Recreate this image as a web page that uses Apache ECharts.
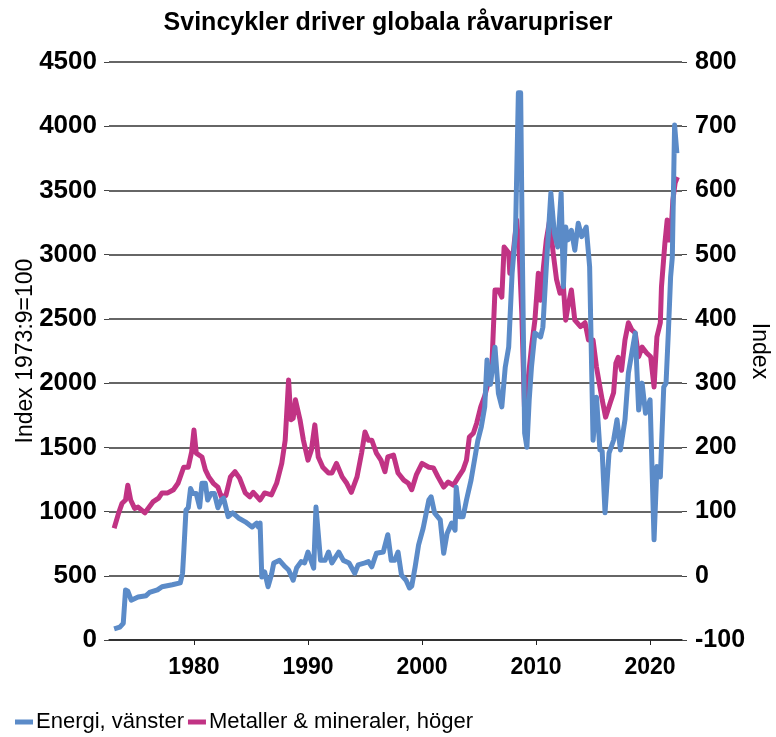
<!DOCTYPE html>
<html>
<head>
<meta charset="utf-8">
<script src="https://cdn.jsdelivr.net/npm/echarts@6/dist/echarts.min.js"></script>
<style>
    html, body { margin: 0; padding: 0; background: #fff; }
    #main { width: 776px; height: 737px; }
</style>
</head>
<body>
<div id="main"></div>
<script>
// Energi (vänster axel)
const energyYears = [1973.0, 1973.5, 1973.8, 1974.0, 1974.2, 1974.5, 1975.1, 1975.8, 1976.1, 1976.8, 1977.2, 1978.1, 1978.8, 1979.0, 1979.1, 1979.3, 1979.5, 1979.7, 1979.9, 1980.2, 1980.5, 1980.7, 1981.0, 1981.2, 1981.5, 1981.8, 1982.1, 1982.4, 1982.6, 1983.0, 1983.4, 1983.9, 1984.5, 1985.1, 1985.5, 1985.65, 1985.8, 1985.95, 1986.2, 1986.5, 1986.8, 1987.0, 1987.5, 1988.0, 1988.3, 1988.7, 1989.0, 1989.4, 1989.7, 1990.0, 1990.5, 1990.7, 1990.9, 1991.1, 1991.5, 1991.8, 1992.1, 1992.7, 1993.1, 1993.6, 1994.1, 1994.4, 1995.0, 1995.3, 1995.6, 1996.0, 1996.6, 1997.0, 1997.3, 1997.6, 1997.9, 1998.2, 1998.6, 1998.9, 1999.1, 1999.4, 1999.7, 2000.1, 2000.6, 2000.8, 2001.1, 2001.6, 2001.9, 2002.2, 2002.6, 2002.9, 2003.0, 2003.3, 2003.6, 2003.9, 2004.3, 2004.6, 2004.9, 2005.2, 2005.5, 2005.7, 2006.0, 2006.4, 2006.7, 2007.0, 2007.3, 2007.6, 2007.9, 2008.2, 2008.45, 2008.65, 2008.8, 2009.0, 2009.2, 2009.4, 2009.6, 2009.9, 2010.4, 2010.6, 2010.9, 2011.3, 2011.6, 2011.9, 2012.2, 2012.4, 2012.6, 2012.8, 2013.1, 2013.4, 2013.7, 2014.0, 2014.4, 2014.7, 2015.0, 2015.3, 2015.6, 2015.8, 2016.05, 2016.4, 2016.8, 2017.1, 2017.4, 2017.8, 2018.1, 2018.4, 2018.7, 2019.0, 2019.3, 2019.6, 2020.0, 2020.35, 2020.6, 2020.9, 2021.2, 2021.4, 2021.6, 2021.8, 2021.95, 2022.15, 2022.3, 2022.35];
const energyValues = [86, 100, 130, 390, 380, 310, 335, 345, 370, 390, 415, 430, 445, 520, 675, 1010, 1030, 1180, 1140, 1140, 1035, 1220, 1220, 1090, 1140, 1140, 1030, 1090, 1105, 960, 990, 950, 920, 880, 910, 880, 910, 490, 530, 415, 510, 600, 620, 570, 545, 465, 560, 610, 600, 685, 560, 1035, 830, 620, 620, 685, 600, 685, 620, 600, 520, 585, 600, 610, 570, 675, 685, 820, 620, 620, 685, 505, 465, 405, 420, 570, 740, 870, 1090, 1115, 990, 935, 675, 830, 910, 855, 1190, 960, 960, 1090, 1245, 1400, 1555, 1660, 1815, 2180, 1990, 2280, 1920, 1815, 2125, 2280, 2855, 3170, 4260, 4260, 3010, 1610, 1500, 1870, 2125, 2390, 2360, 2435, 2905, 3480, 3170, 3060, 3480, 2750, 3215, 3115, 3190, 3035, 3245, 3140, 3215, 2905, 1555, 1890, 1480, 1470, 990, 1455, 1555, 1715, 1480, 1715, 2080, 2235, 2390, 1790, 2000, 1765, 1870, 780, 1350, 1270, 1970, 2000, 2390, 2825, 2980, 4010, 4010, 3790];

// Metaller & mineraler (höger axel)
const metalYears = [1973.0, 1973.4, 1973.7, 1974.0, 1974.2, 1974.45, 1974.8, 1975.1, 1975.7, 1976.4, 1976.9, 1977.2, 1977.7, 1978.2, 1978.6, 1979.1, 1979.5, 1979.8, 1980.0, 1980.2, 1980.7, 1981.0, 1981.3, 1981.7, 1982.1, 1982.4, 1982.8, 1983.2, 1983.6, 1984.0, 1984.5, 1984.9, 1985.2, 1985.8, 1986.2, 1986.8, 1987.25, 1987.7, 1988.0, 1988.3, 1988.5, 1988.7, 1988.9, 1989.3, 1989.6, 1990.0, 1990.3, 1990.6, 1990.9, 1991.3, 1991.8, 1992.1, 1992.5, 1993.0, 1993.4, 1993.8, 1994.3, 1994.7, 1995.0, 1995.3, 1995.6, 1996.0, 1996.4, 1996.75, 1997.0, 1997.5, 1997.9, 1998.4, 1998.8, 1999.1, 1999.5, 2000.0, 2000.6, 2001.0, 2001.4, 2001.9, 2002.3, 2002.75, 2003.2, 2003.6, 2003.9, 2004.15, 2004.5, 2004.8, 2005.15, 2005.5, 2005.8, 2006.1, 2006.4, 2006.7, 2007.0, 2007.2, 2007.6, 2007.7, 2008.0, 2008.3, 2008.5, 2008.75, 2009.0, 2009.3, 2009.6, 2009.9, 2010.2, 2010.4, 2010.65, 2010.9, 2011.2, 2011.5, 2011.8, 2012.1, 2012.4, 2012.6, 2012.8, 2013.1, 2013.4, 2013.9, 2014.3, 2014.6, 2015.0, 2015.3, 2015.8, 2016.1, 2016.5, 2016.8, 2017.0, 2017.2, 2017.5, 2017.8, 2018.1, 2018.4, 2018.7, 2019.0, 2019.3, 2019.7, 2020.05, 2020.35, 2020.6, 2020.9, 2021.0, 2021.3, 2021.5, 2021.6, 2021.8, 2022.0, 2022.2, 2022.4];
const metalValues = [74, 98, 113, 118, 141, 118, 105, 107, 98, 115, 121, 129, 129, 134, 144, 169, 169, 193, 227, 191, 185, 165, 154, 144, 138, 123, 125, 154, 162, 152, 129, 123, 130, 118, 129, 126, 144, 175, 211, 305, 243, 245, 274, 243, 211, 180, 196, 235, 185, 169, 160, 160, 175, 154, 144, 130, 154, 191, 224, 211, 211, 191, 180, 162, 185, 188, 160, 149, 144, 134, 157, 175, 169, 168, 154, 138, 146, 141, 154, 165, 180, 216, 222, 238, 263, 280, 300, 316, 445, 445, 434, 512, 503, 471, 503, 554, 512, 409, 253, 305, 356, 398, 471, 429, 481, 523, 554, 503, 461, 440, 450, 398, 419, 445, 398, 388, 394, 367, 367, 325, 274, 247, 269, 285, 331, 340, 320, 367, 394, 383, 378, 341, 356, 347, 341, 294, 372, 394, 450, 518, 554, 523, 523, 585, 612, 621];

const decadeTicks = [1980, 1990, 2000, 2010, 2020];

const FONT = 'Liberation Sans, Arial, sans-serif';

document.addEventListener('DOMContentLoaded', function () {
    const myChart = echarts.init(document.getElementById('main'), null, { renderer: 'canvas' });

    const energyData = energyYears.map((y, i) => [y, energyValues[i]]);
    const metalData = metalYears.map((y, i) => [y, metalValues[i]]);

    // inga tusentalsavgränsare
    const plain = v => String(v);

    const option = {
        animation: false,
        backgroundColor: '#fff',
        title: {
            text: 'Svincykler driver globala råvarupriser',
            left: 'center',
            top: 6,
            textStyle: { fontFamily: FONT, fontSize: 25, fontWeight: 'bold', color: '#000' }
        },
        legend: {
            data: ['Energi, vänster', 'Metaller & mineraler, höger'],
            left: 10,
            top: 706,
            icon: 'rect',
            itemWidth: 18,
            itemHeight: 5,
            itemGap: 4,
            textStyle: { fontFamily: FONT, fontSize: 22, color: '#000', padding: [0, 0, 0, -2] }
        },
        grid: { left: 109, right: 94, top: 62, bottom: 97, outerBoundsMode: 'none', containLabel: false },
        xAxis: {
            type: 'value',
            min: 1972.55,
            max: 2022.8,
            axisLine: { show: true, lineStyle: { color: '#222', width: 1.5 } },
            axisTick: { show: true, customValues: decadeTicks, length: 5, lineStyle: { color: '#222' } },
            axisLabel: {
                customValues: decadeTicks,
                formatter: plain,
                margin: 16,
                fontFamily: FONT, fontSize: 23, fontWeight: 'bold', color: '#000'
            },
            splitLine: { show: false }
        },
        yAxis: [
            {
                type: 'value',
                min: 0,
                max: 4500,
                interval: 500,
                position: 'left',
                name: 'Index 1973:9=100',
                nameLocation: 'middle',
                nameMoveOverlap: false,
                nameGap: 72,
                nameTextStyle: { fontFamily: FONT, fontSize: 23, color: '#000' },
                axisLine: { show: false },
                axisTick: { show: true, length: 5, lineStyle: { color: '#444' } },
                axisLabel: { formatter: plain, margin: 12, fontFamily: FONT, fontSize: 26, fontWeight: 'bold', color: '#000' },
                splitLine: { show: true, lineStyle: { color: '#333', width: 1.5 } }
            },
            {
                type: 'value',
                min: -100,
                max: 800,
                interval: 100,
                position: 'right',
                name: 'Index',
                nameLocation: 'middle',
                nameMoveOverlap: false,
                nameRotate: -90,
                nameGap: 66,
                nameTextStyle: { fontFamily: FONT, fontSize: 23, color: '#000' },
                axisLine: { show: false },
                axisTick: { show: true, length: 5, lineStyle: { color: '#444' } },
                axisLabel: { formatter: plain, margin: 13, fontFamily: FONT, fontSize: 25, fontWeight: 'bold', color: '#000' },
                splitLine: { show: false }
            }
        ],
        series: [
            {
                name: 'Metaller & mineraler, höger',
                type: 'line',
                yAxisIndex: 1,
                data: metalData,
                showSymbol: false,
                z: 2,
                itemStyle: { color: '#c13384' },
                lineStyle: { color: '#c13384', width: 5, join: 'round' }
            },
            {
                name: 'Energi, vänster',
                type: 'line',
                yAxisIndex: 0,
                data: energyData,
                showSymbol: false,
                z: 3,
                itemStyle: { color: '#5b8bc8' },
                lineStyle: { color: '#5b8bc8', width: 5, join: 'round' }
            }
        ]
    };

    myChart.setOption(option);
});
</script>
</body>
</html>
